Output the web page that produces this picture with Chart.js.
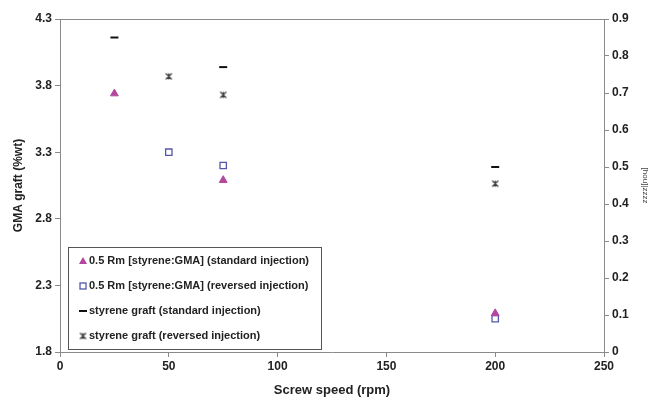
<!DOCTYPE html>
<html>
<head>
<meta charset="utf-8">
<script src="https://cdn.jsdelivr.net/npm/chart.js@4"></script>
<style>
  html, body { margin: 0; padding: 0; background: #fff; }
  #wrap { width: 650px; height: 398px; }
</style>
</head>
<body>
<div id="wrap"><canvas id="my-canvas" width="650" height="398"></canvas></div>
<script>
// GMA graft, standard injection
const gmaStdX = [25, 75, 200]
const gmaStd = [3.74, 3.09, 2.09]
// GMA graft, reversed injection
const gmaRevX = [50, 75, 200]
const gmaRev = [3.30, 3.20, 2.05]
// styrene graft, standard injection (right axis)
const styStdX = [25, 75, 200]
const styStd = [0.85, 0.77, 0.50]
// styrene graft, reversed injection (right axis)
const styRevX = [50, 75, 200]
const styRev = [0.745, 0.695, 0.455]

const seriesLabels = [
  "0.5 Rm [styrene:GMA] (standard injection)",
  "0.5 Rm [styrene:GMA] (reversed injection)",
  "styrene graft (standard injection)",
  "styrene graft (reversed injection)"
]

function pts(xs, ys) {
  return xs.map((x, i) => ({ x: x, y: ys[i] }))
}

const fontFam = "'Liberation Sans', Arial, sans-serif"
const axisGrey = '#8a8a8a'

// excel style star marker: x with a vertical bar
function starMark(col) {
  const c = document.createElement('canvas')
  c.width = 9; c.height = 9
  const g = c.getContext('2d')
  g.strokeStyle = col
  g.lineWidth = 1.2
  g.beginPath()
  g.moveTo(1.5, 1.5); g.lineTo(7.5, 7.5)
  g.moveTo(7.5, 1.5); g.lineTo(1.5, 7.5)
  g.moveTo(4.5, 1.5); g.lineTo(4.5, 7.5)
  g.stroke()
  return c
}
const starImg = starMark('#3a3a3a')

// legend drawn inside the plot area, bottom left
const boxLegend = {
  id: 'boxLegend',
  afterDatasetsDraw(chart) {
    const ctx = chart.ctx
    const area = chart.chartArea
    const left = area.left + 8
    const right = area.left + 261
    const bottom = area.bottom - 3
    const rowH = 25
    const top = bottom - 102
    ctx.save()
    ctx.fillStyle = '#fff'
    ctx.strokeStyle = '#555'
    ctx.lineWidth = 1
    ctx.fillRect(left + 0.5, top + 0.5, right - left, bottom - top)
    ctx.strokeRect(left + 0.5, top + 0.5, right - left, bottom - top)
    ctx.font = 'bold 11px ' + fontFam
    ctx.textBaseline = 'middle'
    chart.data.datasets.forEach((ds, i) => {
      const y = bottom - 13 - (3 - i) * rowH
      const mx = left + 15
      ctx.fillStyle = ds.pointBackgroundColor
      ctx.strokeStyle = ds.pointBorderColor
      ctx.lineWidth = ds.borderWidth
      ctx.beginPath()
      if (ds.pointStyle === 'triangle') {
        ctx.moveTo(mx, y - 4); ctx.lineTo(mx + 4, y + 3); ctx.lineTo(mx - 4, y + 3); ctx.closePath(); ctx.fill()
      } else if (ds.pointStyle === 'rect') {
        ctx.strokeRect(mx - 3, y - 3, 6, 6)
      } else if (ds.pointStyle === 'line') {
        ctx.moveTo(mx - 4, y); ctx.lineTo(mx + 4, y); ctx.stroke()
      } else {
        ctx.drawImage(starImg, mx - 4.5, y - 4.5)
      }
      ctx.fillStyle = '#222'
      ctx.fillText(ds.label, mx + 6, y)
    })
    ctx.restore()
  }
}

// top border of the plot box
const topBorder = {
  id: 'topBorder',
  beforeDatasetsDraw(chart) {
    const ctx = chart.ctx
    const a = chart.chartArea
    ctx.save()
    ctx.strokeStyle = axisGrey
    ctx.lineWidth = 1
    ctx.beginPath()
    ctx.moveTo(a.left, a.top + 0.5)
    ctx.lineTo(a.right, a.top + 0.5)
    ctx.stroke()
    ctx.restore()
  }
}

const ctx = document.getElementById('my-canvas').getContext('2d')
new Chart(ctx, {
  type: 'scatter',
  data: {
    datasets: [
      {
        label: seriesLabels[0], data: pts(gmaStdX, gmaStd), yAxisID: 'y',
        pointStyle: 'triangle', pointRadius: 4.5, borderWidth: 1,
        pointBackgroundColor: '#b3479f', pointBorderColor: '#b3479f'
      },
      {
        label: seriesLabels[1], data: pts(gmaRevX, gmaRev), yAxisID: 'y',
        pointStyle: 'rect', pointRadius: 4.5, borderWidth: 1.3,
        pointBackgroundColor: 'rgba(255,255,255,0)', pointBorderColor: '#5458a8'
      },
      {
        label: seriesLabels[2], data: pts(styStdX, styStd), yAxisID: 'y2',
        pointStyle: 'line', pointRadius: 4, borderWidth: 2,
        pointBackgroundColor: '#111', pointBorderColor: '#111'
      },
      {
        label: seriesLabels[3], data: pts(styRevX, styRev), yAxisID: 'y2',
        pointStyle: starImg, pointRadius: 4, borderWidth: 1,
        pointBackgroundColor: '#3a3a3a', pointBorderColor: '#3a3a3a'
      }
    ]
  },
  options: {
    responsive: false,
    animation: false,
    layout: { padding: { top: 19, left: 0, right: 0, bottom: 0 } },
    plugins: {
      legend: { display: false },
      tooltip: { enabled: false }
    },
    scales: {
      x: {
        type: 'linear', min: 0, max: 250,
        ticks: { stepSize: 50, color: '#222', font: { family: fontFam, size: 12, weight: 'bold' }, padding: 2 },
        grid: { drawOnChartArea: false, drawTicks: true, tickLength: 5, color: axisGrey },
        border: { color: axisGrey },
        title: { display: true, text: 'Screw speed (rpm)', color: '#222', font: { family: fontFam, size: 13, weight: 'bold' }, padding: { top: 2, bottom: 0 } },
        afterFit(s) { s.height = 46 }
      },
      y: {
        position: 'left', min: 1.8, max: 4.3,
        ticks: { stepSize: 0.5, color: '#222', font: { family: fontFam, size: 12, weight: 'bold' }, padding: 3,
          callback: v => v.toFixed(1) },
        grid: { drawOnChartArea: false, tickLength: 5, color: axisGrey },
        border: { color: axisGrey },
        title: { display: true, text: 'GMA graft (%wt)', color: '#222', font: { family: fontFam, size: 12, weight: 'bold' }, padding: { top: 11, bottom: 0 } },
        afterFit(s) { s.width = 60 }
      },
      y2: {
        position: 'right', min: 0, max: 0.9,
        ticks: { stepSize: 0.1, color: '#222', font: { family: fontFam, size: 12, weight: 'bold' }, padding: 3,
          callback: v => v === 0 ? '0' : v.toFixed(1) },
        grid: { drawOnChartArea: false, tickLength: 5, color: axisGrey },
        border: { color: axisGrey },
        title: { display: true, text: '[hou]|zzzz', color: '#444', font: { family: fontFam, size: 8 }, padding: { top: 0, bottom: 4 } },
        afterFit(s) { s.width = 46 }
      }
    }
  },
  plugins: [topBorder, boxLegend]
})
</script>
</body>
</html>
